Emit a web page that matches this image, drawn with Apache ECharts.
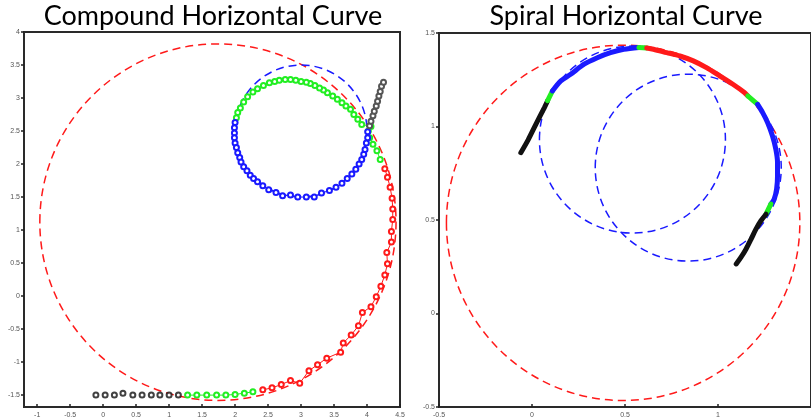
<!DOCTYPE html>
<html>
<head>
<meta charset="utf-8">
<script src="https://cdn.jsdelivr.net/npm/echarts@6/dist/echarts.min.js"></script>
<style>
  html, body { margin: 0; padding: 0; background: #fff; }
  #chart { width: 811px; height: 419px; }
</style>
</head>
<body>
<div id="chart"></div>
<script>
// ---- compound curve (left) ----
var compTicksX = [-1, -0.5, 0, 0.5, 1, 1.5, 2, 2.5, 3, 3.5, 4, 4.5];
var compTicksY = [-1.5, -1, -0.5, 0, 0.5, 1, 1.5, 2, 2.5, 3, 3.5, 4];
// circles: [cx, cy, r]
var compCircleLarge = [1.74, 1.12, 2.70];
var compCircleSmall = [3.0, 2.5, 1.0];

var compTangentIn = [[-0.11,-1.5],[0.03,-1.5],[0.17,-1.5],[0.30,-1.47],[0.45,-1.5],[0.59,-1.5],[0.73,-1.5],[0.86,-1.5],[1.0,-1.5],[1.14,-1.5]];
var compSpiralIn = [[1.28,-1.5],[1.42,-1.5],[1.57,-1.5],[1.72,-1.5],[1.86,-1.5],[2.0,-1.49],[2.14,-1.47],[2.27,-1.45]];
var compArcLarge = [[2.42,-1.42],[2.56,-1.39],[2.70,-1.34],[2.84,-1.28],[2.98,-1.32],[3.12,-1.13],[3.25,-1.04],[3.39,-0.94],[3.60,-0.85],[3.64,-0.71],[3.76,-0.59],[3.87,-0.45],[3.93,-0.25],[4.06,-0.16],[4.14,-0.01],[4.21,0.15],[4.27,0.32],[4.31,0.49],[4.30,0.66],[4.37,0.82],[4.37,0.98],[4.39,1.16],[4.39,1.32],[4.38,1.48],[4.35,1.65],[4.31,1.80],[4.27,1.93]];
var compSpiralMid = [[4.20,2.07],[4.15,2.20],[4.09,2.30],[4.04,2.40],[4.02,2.50],[4.06,2.57],[3.92,2.60],[3.86,2.68],[3.80,2.75],[3.75,2.83],[3.68,2.88],[3.62,2.93],[3.55,2.98],[3.48,3.03],[3.40,3.08],[3.34,3.12],[3.28,3.15],[3.21,3.19],[3.14,3.22],[3.08,3.24],[3.0,3.25],[2.92,3.27],[2.84,3.28],[2.76,3.28],[2.67,3.27],[2.60,3.25],[2.52,3.23],[2.43,3.19],[2.34,3.14],[2.27,3.09],[2.19,3.02],[2.13,2.94],[2.08,2.85],[2.04,2.78],[2.02,2.70]];
var compArcSmall = [[2.0,2.63],[1.99,2.55],[1.99,2.47],[1.99,2.40],[2.0,2.32],[2.02,2.25],[2.04,2.17],[2.07,2.10],[2.09,2.03],[2.13,1.96],[2.18,1.90],[2.23,1.83],[2.28,1.78],[2.34,1.73],[2.42,1.67],[2.51,1.61],[2.62,1.57],[2.72,1.52],[2.84,1.53],[2.95,1.50],[3.08,1.50],[3.20,1.50],[3.31,1.56],[3.43,1.60],[3.53,1.65],[3.62,1.71],[3.70,1.78],[3.77,1.85],[3.83,1.92],[3.88,2.0],[3.92,2.07],[3.95,2.15],[3.97,2.22],[3.99,2.32],[4.01,2.40],[4.01,2.49]];
var compTangentOut = [[4.04,2.58],[4.06,2.65],[4.09,2.73],[4.11,2.80],[4.14,2.88],[4.16,2.95],[4.18,3.03],[4.20,3.10],[4.22,3.18],[4.25,3.24]];

// ---- spiral curve (right) ----
var spiralTicksX = [-0.5, 0, 0.5, 1];
var spiralTicksY = [-0.5, 0, 0.5, 1, 1.5];
var spiralCircleLarge = [0.49, 0.485, 0.95];
var spiralCircleA = [0.54, 0.93, 0.5];
var spiralCircleB = [0.84, 0.78, 0.5];

var spiralTangentIn = [[-0.06,0.86],[-0.02,0.93],[0.02,1.01],[0.066,1.10],[0.084,1.138]];
var spiralEntry = [[0.084,1.138],[0.11,1.19]];
var spiralArcFirst = [[0.11,1.19],[0.155,1.244],[0.208,1.279],[0.28,1.333],[0.351,1.368],[0.422,1.395],[0.493,1.413],[0.575,1.423]];
var spiralBetween1 = [[0.575,1.423],[0.617,1.42]];
var spiralArcMid = [[0.617,1.42],[0.653,1.413],[0.724,1.395],[0.795,1.377],[0.867,1.351],[0.938,1.315],[1.009,1.271],[1.08,1.226],[1.142,1.182],[1.16,1.164]];
var spiralBetween2 = [[1.16,1.164],[1.213,1.118]];
var spiralArcLast = [[1.213,1.118],[1.24,1.074],[1.267,1.02],[1.293,0.949],[1.311,0.878],[1.32,0.807],[1.32,0.736],[1.315,0.665],[1.302,0.611],[1.284,0.585]];
var spiralExit = [[1.284,0.585],[1.258,0.531]];
var spiralTangentOut = [[1.258,0.531],[1.231,0.496],[1.204,0.451],[1.178,0.398],[1.151,0.345],[1.124,0.301],[1.098,0.265]];

var RED = '#ff1a1a', BLUE = '#1a1aff', GREEN = '#22ee22', BLACK = '#111111';

function dashedCircle(idx, circle, color) {
    return {
        type: 'custom',
        xAxisIndex: idx, yAxisIndex: idx,
        silent: true,
        data: [circle],
        renderItem: function (params, api) {
            var c = api.coord([api.value(0), api.value(1)]);
            var s = api.size([api.value(2), api.value(2)]);
            return {
                type: 'ellipse',
                shape: { cx: c[0], cy: c[1], rx: s[0], ry: s[1] },
                style: { fill: 'none', stroke: color, lineWidth: 1.5, lineDash: [8, 5] }
            };
        }
    };
}

// points of the compound curve: little open circles joined by thin lines
function dots(data, color, joined) {
    return {
        type: joined ? 'line' : 'scatter',
        xAxisIndex: 0, yAxisIndex: 0,
        data: data,
        symbol: 'emptyCircle',
        symbolSize: 5,
        itemStyle: { color: color, borderColor: color, borderWidth: 1.3 },
        lineStyle: { color: color, width: 1 }
    };
}

// dense track of the spiral curve
function track(data, color) {
    return {
        type: 'line',
        xAxisIndex: 1, yAxisIndex: 1,
        data: data,
        smooth: 0.3,
        showSymbol: false,
        lineStyle: { color: color, width: 5, cap: 'round' }
    };
}

function axis(gridIndex, min, max, ticks, isX) {
    return {
        type: 'value',
        gridIndex: gridIndex,
        min: min, max: max,
        splitLine: { show: false },
        axisLine: { show: true, onZero: false, lineStyle: { color: '#2a2a2a', width: 2 } },
        axisTick: { show: true, inside: isX, length: 3, customValues: ticks, lineStyle: { color: '#222', width: 1.5 } },
        axisLabel: {
            customValues: ticks, color: '#555', fontSize: 7, margin: isX ? 5 : 4,
            fontFamily: 'Liberation Sans',
            showMinLabel: true, showMaxLabel: true
        }
    };
}

var chart = echarts.init(document.getElementById('chart'));
chart.setOption({
    animation: false,
    backgroundColor: '#fff',
    graphic: [
        { type: 'text', x: 213, y: 3, style: { text: 'Compound Horizontal Curve', fill: '#000', font: '27px Lato', align: 'center', verticalAlign: 'top' } },
        { type: 'text', x: 626, y: 3, style: { text: 'Spiral Horizontal Curve', fill: '#000', font: '27px Lato', align: 'center', verticalAlign: 'top' } }
    ],
    grid: [
        { left: 24, top: 32, width: 376, height: 375, show: true, borderColor: '#2a2a2a', borderWidth: 2, backgroundColor: 'transparent' },
        { left: 439, top: 33, width: 375, height: 375, show: true, borderColor: '#2a2a2a', borderWidth: 2, backgroundColor: 'transparent' }
    ],
    xAxis: [
        axis(0, -1.2, 4.5, compTicksX, true),
        axis(1, -0.5, 1.5, spiralTicksX, true)
    ],
    yAxis: [
        axis(0, -1.68, 4, compTicksY, false),
        axis(1, -0.5, 1.5, spiralTicksY, false)
    ],
    series: [
        dashedCircle(0, compCircleLarge, RED),
        dashedCircle(0, compCircleSmall, BLUE),
        dots(compTangentIn, BLACK, false),
        dots(compSpiralIn, GREEN, true),
        dots(compArcLarge, RED, true),
        dots(compSpiralMid, GREEN, true),
        dots(compArcSmall, BLUE, true),
        dots(compTangentOut, '#555555', true),

        dashedCircle(1, spiralCircleLarge, RED),
        dashedCircle(1, spiralCircleA, BLUE),
        dashedCircle(1, spiralCircleB, BLUE),
        track(spiralTangentIn, BLACK),
        track(spiralEntry, GREEN),
        track(spiralArcFirst, BLUE),
        track(spiralBetween1, GREEN),
        track(spiralArcMid, RED),
        track(spiralBetween2, GREEN),
        track(spiralArcLast, BLUE),
        track(spiralExit, GREEN),
        track(spiralTangentOut, BLACK)
    ]
});
</script>
</body>
</html>
